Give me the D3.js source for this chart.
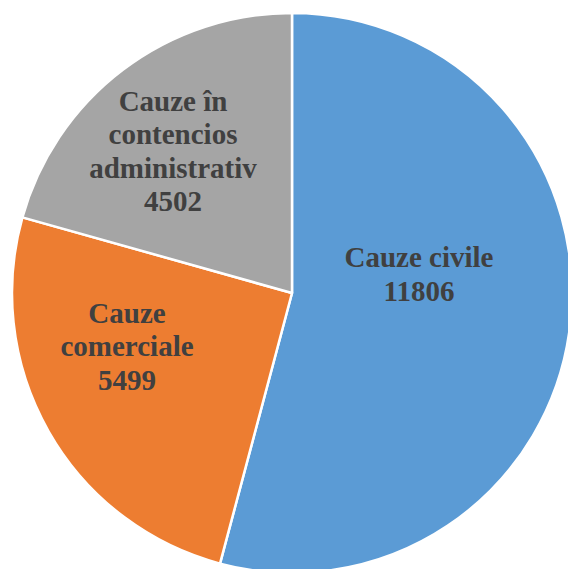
<!DOCTYPE html>
<html>
<head>
<meta charset="utf-8">
<script src="https://cdn.jsdelivr.net/npm/d3@7"></script>
<style>
  html, body { margin: 0; padding: 0; background: #fff; }
  svg { display: block; }
</style>
</head>
<body>
<svg id="chart" width="568" height="569"></svg>
<script>
const categories = ["Cauze civile", "Cauze comerciale", "Cauze în contencios administrativ"];
const values = [11806, 5499, 4502];
const labelLines = [
  ["Cauze civile", "11806"],
  ["Cauze", "comerciale", "5499"],
  ["Cauze în", "contencios", "administrativ", "4502"]
];
const colors = ["#5B9BD5", "#ED7D31", "#A5A5A5"];

// label block placement (offset of block centre from pie centre, px)
const labelOffsets = [[127, -9], [-165, 63], [-119, -132]];

const W = 568, H = 569;
const cx = 292, cy = 293, R = 280;
const lineH = 33.5;

const svg = d3.select("#chart");
const g = svg.append("g").attr("transform", `translate(${cx},${cy})`);

const data = categories.map((c, i) => ({ name: c, value: values[i], idx: i }));
const pie = d3.pie().value(d => d.value).sort(null);
const arc = d3.arc().innerRadius(0).outerRadius(R);
const arcs = pie(data);

g.selectAll("path.slice")
  .data(arcs)
  .join("path")
  .attr("class", "slice")
  .attr("d", arc)
  .attr("fill", d => colors[d.data.idx])
  .attr("stroke", "#fff")
  .attr("stroke-width", 2.5)
  .attr("stroke-linejoin", "round");

arcs.forEach(a => {
  const i = a.data.idx;
  const lines = labelLines[i];
  const [ox, oy] = labelOffsets[i];
  const n = lines.length;
  const t = g.append("text")
    .attr("text-anchor", "middle")
    .attr("font-family", "'Liberation Serif', 'Times New Roman', serif")
    .attr("font-weight", "bold")
    .attr("font-size", 29)
    .attr("fill", "#404040");
  lines.forEach((ln, k) => {
    t.append("tspan")
      .attr("x", ox)
      .attr("y", oy + (k - (n - 1) / 2) * lineH)
      .text(ln);
  });
});
</script>
</body>
</html>
